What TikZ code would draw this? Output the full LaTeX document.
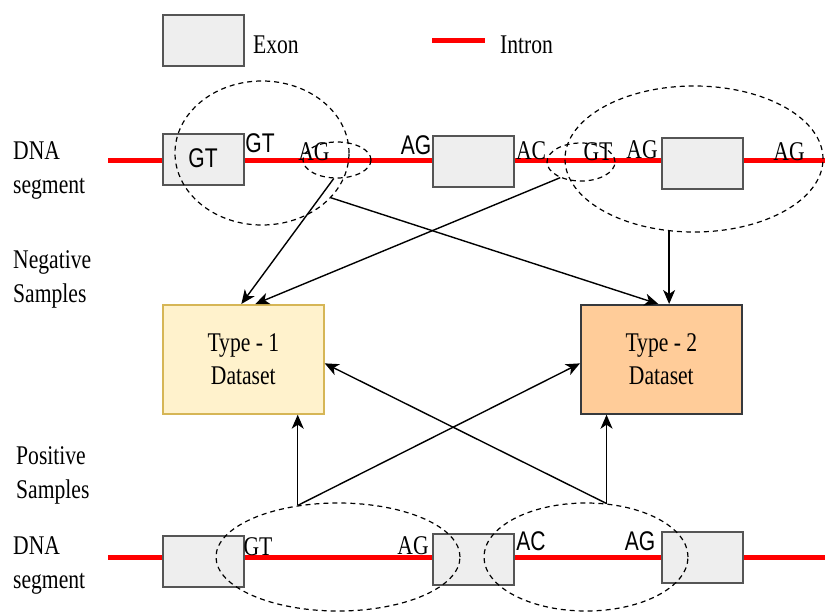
\documentclass[tikz,border=0pt]{standalone}
\usepackage{fontspec}
\setmainfont{Liberation Serif}[FakeStretch=0.8]
\newfontfamily\sflbl{Liberation Sans}[FakeStretch=0.78]
\usetikzlibrary{arrows.meta,shapes.geometric}
\definecolor{exonfill}{HTML}{EEEEEE}
\definecolor{exonedge}{HTML}{555555}
\definecolor{typeonefill}{HTML}{FFF2CC}
\definecolor{typeoneedge}{HTML}{D6B656}
\definecolor{typetwofill}{HTML}{FFCC99}
\definecolor{typetwoedge}{HTML}{36393D}
\begin{document}
\begin{tikzpicture}[x=1pt,y=-1pt,
  exon/.style={draw=exonedge,fill=exonfill,line width=1.5pt,minimum width=81pt,minimum height=51pt,inner sep=0pt,anchor=north west},
  intron/.style={draw=red,line width=5pt},
  txt/.style={font=\fontsize{27}{34}\selectfont,inner sep=0pt,anchor=base},
  sftxt/.style={font=\sflbl\fontsize{27}{34}\selectfont,inner sep=0pt,anchor=base},
  side/.style={font=\fontsize{27}{34}\selectfont,inner sep=0pt,align=left,anchor=west},
  region/.style={draw,ellipse,dash pattern=on 5pt off 4pt,line width=1.2pt,inner sep=0pt},
  dataset/.style={line width=1.7pt,minimum width=161pt,minimum height=109pt,inner sep=0pt,anchor=north west,align=center,font=\fontsize{27}{33}\selectfont},
  arr/.style={line width=1.4pt,-{Stealth[length=14pt,width=12pt,inset=4pt]}}]
\useasboundingbox (0,0) rectangle (825,613);

% legend
\node[exon] (legexon) at (162,14) {};
\node[txt,anchor=base west] (legexontxt) at (253,53) {Exon};
\coordinate (legintA) at (432,40);
\coordinate (legintB) at (485,40);
\draw[intron] (legintA) -- (legintB);
\node[txt,anchor=base west] (leginttxt) at (500,53) {Intron};

% side labels
\node[side] (dnatop) at (13,170) {DNA\\segment};
\node[side] (neg) at (13,279) {Negative\\Samples};
\node[side] (pos) at (16,475) {Positive\\Samples};
\node[side] (dnabot) at (13,565) {DNA\\segment};

% top DNA segment
\coordinate (topL) at (108,160);
\coordinate (topR) at (825,160);
\draw[intron] (topL) -- (topR);
\node[exon] (tex1) at (162,133) {};
\node[exon] (tex2) at (432,135) {};
\node[exon] (tex3) at (661,137) {};
\node[sftxt] (tgt1) at (203,167) {GT};
\node[sftxt] (tgt2) at (260,152) {GT};
\node[txt] (tag1) at (314,160) {AG};
\node[sftxt] (tag2) at (416,154) {AG};
\node[txt] (tac1) at (531,159) {AC};
\node[txt] (tgt3) at (598,160) {GT};
\node[txt] (tag3) at (642,158) {AG};
\node[txt] (tag4) at (789,160) {AG};
\node[region,minimum width=174pt,minimum height=144pt] (tbig1) at (262,153) {};
\node[region,minimum width=68pt,minimum height=36pt] (tsm1) at (337,160) {};
\node[region,minimum width=68pt,minimum height=38pt] (tsm2) at (581,162) {};
\node[region,minimum width=258pt,minimum height=146pt] (tbig2) at (694,159) {};

% datasets
\node[dataset,draw=typeoneedge,fill=typeonefill] (type1) at (162,304) {Type - 1\\Dataset};
\node[dataset,draw=typetwoedge,fill=typetwofill] (type2) at (580,304) {Type - 2\\Dataset};

% bottom DNA segment
\coordinate (botL) at (108,557);
\coordinate (botR) at (825,557);
\draw[intron] (botL) -- (botR);
\node[exon] (bex1) at (162,535) {};
\node[exon] (bex2) at (432,533) {};
\node[exon] (bex3) at (661,531) {};
\node[txt] (bgt) at (258,555) {GT};
\node[txt] (bag1) at (413,554) {AG};
\node[sftxt] (bac) at (531,550) {AC};
\node[sftxt] (bag2) at (640,550) {AG};
\node[region,minimum width=244pt,minimum height=108pt] (bl) at (338,557) {};
\node[region,minimum width=204pt,minimum height=108pt] (br) at (586,557) {};

% arrows, negative samples
\draw[arr] (tsm1.-100) -- ([xshift=-2pt]type1.north);
\draw[arr] (tsm2.-143) -- ([xshift=12pt]type1.north);
\draw[arr] (tbig1.-33) -- ([xshift=-3pt]type2.north);
\draw[arr] (tbig2.-109) -- (tbig2.-109 |- type2.north);

% arrows, positive samples
\coordinate (ps1) at (bl.128.8);
\coordinate (ps2) at (br.69.6);
\draw[arr] (ps1) -- (ps1 |- type1.south);
\draw[arr] (ps1) -- ([yshift=-4pt]type2.west);
\draw[arr] (ps2) -- ([yshift=-4pt]type1.east);
\draw[arr] (ps2) -- (ps2 |- type2.south);
\end{tikzpicture}
\end{document}
